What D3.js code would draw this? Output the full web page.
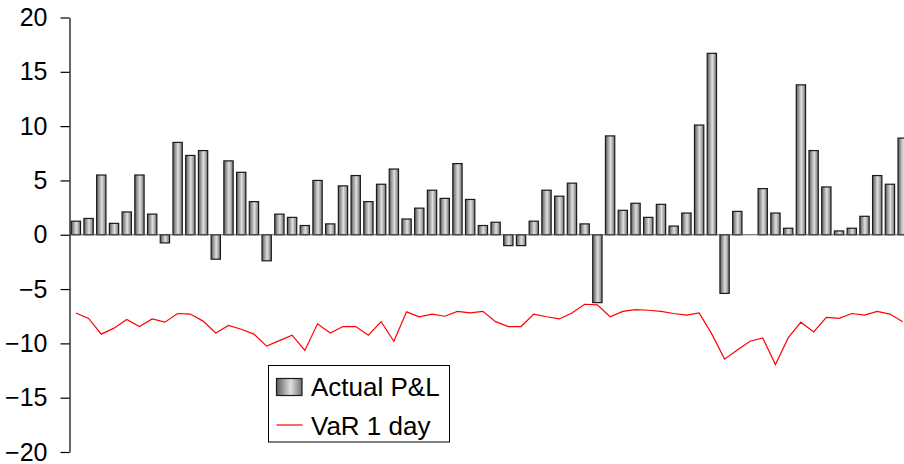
<!DOCTYPE html>
<html>
<head>
<meta charset="utf-8">
<script src="https://cdn.jsdelivr.net/npm/d3@7"></script>
<style>
  body { margin: 0; background: #fff; }
  svg { display: block; font-family: Arial, "Liberation Sans", sans-serif; }
</style>
</head>
<body>
<svg id="chart" width="904" height="464"></svg>
<script>
// daily actual P&L (66 days)
const pnl = [
  1.25, 1.5, 5.5, 1.05, 2.1, 5.5, 1.9, -0.75, 8.5, 7.3,
  7.75, -2.25, 6.8, 5.75, 3.05, -2.4, 1.9, 1.6, 0.85, 5.0,
  1.0, 4.5, 5.45, 3.05, 4.65, 6.05, 1.45, 2.45, 4.1, 3.35,
  6.55, 3.25, 0.85, 1.15, -1.0, -1.0, 1.25, 4.1, 3.55, 4.75,
  1.0, -6.25, 9.1, 2.25, 2.9, 1.6, 2.8, 0.8, 2.0, 10.1,
  16.7, -5.4, 2.15, 0, 4.25, 2.0, 0.6, 13.8, 7.75, 4.4,
  0.35, 0.6, 1.7, 5.45, 4.65, 8.9
];

// one-day VaR
const var1d = [
  -7.2, -7.7, -9.15, -8.6, -7.8, -8.45, -7.75, -8.05, -7.25, -7.3,
  -7.95, -9.05, -8.35, -8.7, -9.15, -10.25, -9.75, -9.25, -10.65, -8.2,
  -9.05, -8.45, -8.45, -9.25, -8.0, -9.8, -7.1, -7.55, -7.3, -7.5,
  -7.05, -7.2, -7.05, -8.0, -8.45, -8.45, -7.3, -7.55, -7.75, -7.2,
  -6.4, -6.45, -7.55, -7.05, -6.9, -6.95, -7.05, -7.25, -7.4, -7.2,
  -9.15, -11.45, -10.6, -9.8, -9.5, -11.95, -9.5, -8.05, -8.95, -7.6,
  -7.7, -7.25, -7.4, -7.05, -7.3, -8.0
];

const yTicks = [-20, -15, -10, -5, 0, 5, 10, 15, 20];
const seriesNames = ["Actual P&L", "VaR 1 day"];

const days = pnl.map((d, i) => i);

const svg = d3.select("#chart");

const plotLeft = 69.5, plotTop = 17.5, plotBottom = 452;
const step = 12.72;

const x = d3.scaleBand()
  .domain(days)
  .range([plotLeft, plotLeft + step * days.length])
  .paddingInner(0.27)
  .paddingOuter(0.135);

const y = d3.scaleLinear()
  .domain([-20, 20])
  .range([plotBottom, plotTop]);

// gradient for the bars (cylinder-ish shading)
const defs = svg.append("defs");
const grad = defs.append("linearGradient")
  .attr("id", "barGrad")
  .attr("x1", "0%").attr("x2", "100%")
  .attr("y1", "0%").attr("y2", "0%");
grad.append("stop").attr("offset", "0%").attr("stop-color", "#5c5c5c");
grad.append("stop").attr("offset", "55%").attr("stop-color", "#e0e0e0");
grad.append("stop").attr("offset", "100%").attr("stop-color", "#727272");

// y axis
const yAxis = svg.append("g")
  .attr("transform", `translate(${plotLeft},0)`)
  .call(d3.axisLeft(y).tickValues(yTicks).tickSize(9).tickPadding(13).tickSizeOuter(0));
yAxis.select(".domain").attr("stroke", "#000").attr("stroke-width", 1.2);
yAxis.selectAll(".tick line").attr("stroke", "#000").attr("stroke-width", 1.2);
yAxis.selectAll(".tick text")
  .attr("font-size", 25)
  .attr("fill", "#000")
  .attr("font-family", "Arial, 'Liberation Sans', sans-serif");

// bars
svg.append("g")
  .selectAll("rect")
  .data(pnl)
  .join("rect")
    .attr("x", (d, i) => x(i))
    .attr("y", d => y(Math.max(0, d)))
    .attr("width", x.bandwidth())
    .attr("height", d => Math.abs(y(d) - y(0)))
    .attr("fill", "url(#barGrad)")
    .attr("stroke", "#1a1a1a")
    .attr("stroke-width", 1.2);

// zero line
svg.append("line")
  .attr("x1", plotLeft).attr("x2", 904)
  .attr("y1", y(0)).attr("y2", y(0))
  .attr("stroke", "#555")
  .attr("stroke-width", 1);

// VaR line
const line = d3.line()
  .x((d, i) => x(i) + x.bandwidth() / 2)
  .y(d => y(d));

svg.append("path")
  .datum(var1d)
  .attr("d", line)
  .attr("fill", "none")
  .attr("stroke", "#ff0000")
  .attr("stroke-width", 1.2);

// legend
const lg = svg.append("g").attr("transform", "translate(268.5,365.5)");
lg.append("rect")
  .attr("width", 181).attr("height", 76.5)
  .attr("fill", "#fff")
  .attr("stroke", "#000")
  .attr("stroke-width", 1);
lg.append("rect")
  .attr("x", 8).attr("y", 13)
  .attr("width", 25.5).attr("height", 17)
  .attr("fill", "url(#barGrad)")
  .attr("stroke", "#1a1a1a")
  .attr("stroke-width", 1.2);
lg.append("line")
  .attr("x1", 8).attr("x2", 34)
  .attr("y1", 59.5).attr("y2", 59.5)
  .attr("stroke", "#ff0000")
  .attr("stroke-width", 1.2);
lg.selectAll("text")
  .data(seriesNames)
  .join("text")
    .attr("x", 42.5)
    .attr("y", (d, i) => 30 + i * 39)
    .attr("font-size", 26)
    .attr("fill", "#000")
    .text(d => d);
</script>
</body>
</html>
